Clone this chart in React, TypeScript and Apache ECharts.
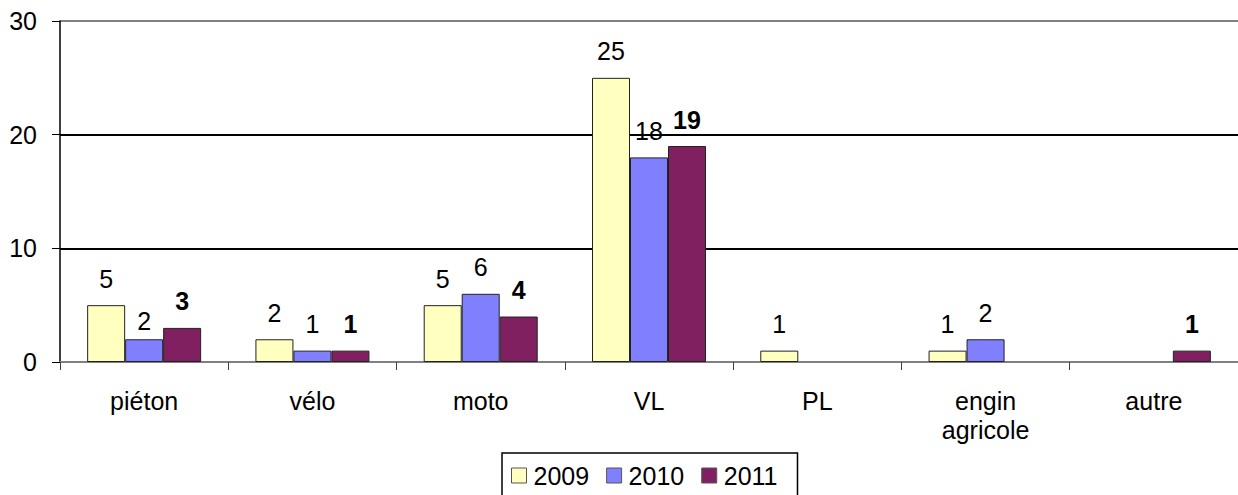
import React, { useEffect, useRef } from "react";
import * as echarts from "echarts";

const categories = ["piéton", "vélo", "moto", "VL", "PL", "engin\nagricole", "autre"];
const seriesNames = ["2009", "2010", "2011"];
const values2009 = [5, 2, 5, 25, 1, 1, 0];
const values2010 = [2, 1, 6, 18, 0, 2, 0];
const values2011 = [3, 1, 4, 19, 0, 0, 1];
const yTicks = { min: 0, max: 30, interval: 10 };

const FONT = "'Liberation Sans', Arial, sans-serif";
const colors = ["#FFFFC0", "#8080FF", "#802060"];

export default function App() {
  const ref = useRef<HTMLDivElement>(null);
  useEffect(() => {
    document.body.style.margin = "0";
    const chart = echarts.init(ref.current!, null, { renderer: "svg" });
    const all = [values2009, values2010, values2011];
    const series = all.map((vals, i) => ({
      name: seriesNames[i],
      type: "bar",
      barWidth: 38,
      barGap: "0%",
      data: vals.map((v, j) => {
        if (v === 0) return null;
        if (i === 1 && j === 0) return { value: v, label: { distance: 6 } };
        return v;
      }),
      itemStyle: { color: colors[i], borderColor: "#222", borderWidth: 1 },
      label: {
        show: true,
        position: "top",
        distance: 14,
        fontSize: 25,
        fontFamily: FONT,
        color: "#000",
        fontWeight: i === 2 ? "bold" : "normal",
        formatter: (p: any) => (p.value ? String(p.value) : ""),
      },
    }));
    chart.setOption({
      animation: false,
      textStyle: { fontFamily: FONT },
      grid: { left: 60, right: 0, top: 21, bottom: 133, containLabel: false },
      legend: {
        left: 502,
        top: 453,
        orient: "horizontal",
        itemWidth: 15,
        itemHeight: 15,
        itemGap: 17,
        padding: [10, 20, 10, 9],
        borderColor: "#000",
        borderWidth: 1.5,
        backgroundColor: "#fff",
        textStyle: { fontSize: 25, fontFamily: FONT, color: "#000", padding: [0, 0, 0, 2] },
        data: seriesNames.map((n, i) => ({
          name: n,
          icon: "rect",
          itemStyle: { color: colors[i], borderColor: "#555", borderWidth: 1 },
        })),
      },
      xAxis: {
        type: "category",
        data: categories,
        boundaryGap: true,
        axisLine: { show: true, lineStyle: { color: "#808080", width: 2 } },
        axisTick: { show: true, length: 8, lineStyle: { color: "#404040", width: 1 }, alignWithLabel: false },
        axisLabel: { fontSize: 25, fontFamily: FONT, color: "#000", margin: 24, lineHeight: 29, interval: 0 },
        splitLine: { show: false },
      },
      yAxis: {
        type: "value",
        min: yTicks.min,
        max: yTicks.max,
        interval: yTicks.interval,
        axisLine: { show: true, lineStyle: { color: "#000", width: 1.5 } },
        axisTick: { show: true, length: 8, inside: false, lineStyle: { color: "#000", width: 1 } },
        axisLabel: { fontSize: 25, fontFamily: FONT, color: "#000", margin: 23 },
        splitLine: {
          show: true,
          lineStyle: { color: ["#808080", "#000", "#000", "#808080"], width: 2 },
        },
      },
      series,
    });
    return () => chart.dispose();
  }, []);
  return <div ref={ref} style={{ width: 1238, height: 495 }} />;
}
